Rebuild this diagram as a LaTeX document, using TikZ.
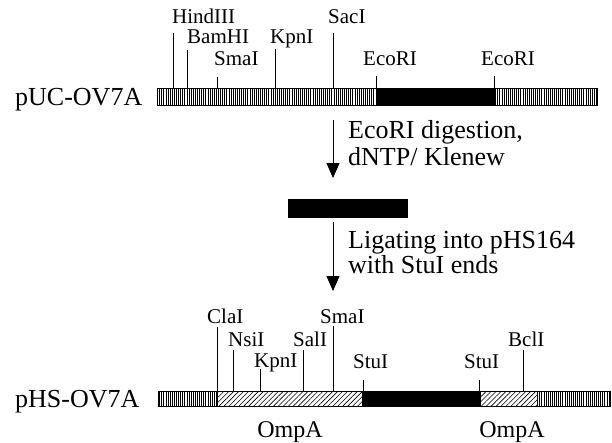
\documentclass[tikz,border=0pt]{standalone}
\usepackage{fontspec}
\setmainfont{Liberation Serif}
\usetikzlibrary{arrows.meta,patterns.meta}

\begin{document}
\begin{tikzpicture}[x=1pt,y=-1pt,
  site/.style={font=\fontsize{21}{21}\selectfont,anchor=base west,inner sep=0pt},
  plasmid/.style={font=\fontsize{26}{26}\selectfont,anchor=base west,inner sep=0pt},
  stepnote/.style={font=\fontsize{26}{26}\selectfont,anchor=base west,inner sep=0pt},
  gene/.style={font=\fontsize{24}{24}\selectfont,anchor=base,inner sep=0pt},
  stripes/.style={draw,line width=1pt,pattern={Lines[angle=90,distance=2.1pt,line width=0.7pt]}},
  hatch/.style={draw,line width=1pt,pattern={Lines[angle=45,distance=3.5pt,line width=0.6pt]}},
  insert/.style={draw,line width=1pt,fill=black},
  tick/.style={line width=1pt},
  arr/.style={-{Triangle[length=15pt,width=13pt]},line width=1pt}
]
  \useasboundingbox (0,0) rectangle (612,442);

  % pUC-OV7A
  \node[plasmid] (puc) at (15,105) {pUC-OV7A};
  \draw[stripes] (157,88) rectangle (376,105);
  \draw[insert]  (376,88) rectangle (494,105);
  \draw[stripes] (494,88) rectangle (597,105);
  \coordinate (barA) at (157,88);

  \node[site] (lhind)  at (172,23) {HindIII};
  \node[site] (lbam)   at (187,43) {BamHI};
  \node[site] (lsma)   at (214,65) {SmaI};
  \node[site] (lkpn)   at (270,43) {KpnI};
  \node[site] (lsac)   at (328,23) {SacI};
  \node[site] (leco)   at (363,65) {EcoRI};
  \node[site] (leco2)  at (481,65) {EcoRI};

  \coordinate (hind) at (173,33);
  \coordinate (bam)  at (187,50);
  \coordinate (sma)  at (217,77);
  \coordinate (kpn)  at (275,49);
  \coordinate (sac)  at (333,33);
  \coordinate (eco)  at (376,76);
  \coordinate (eco2) at (494,76);
  \foreach \s in {hind,bam,sma,kpn,sac,eco,eco2}
    \draw[tick] (\s) -- (\s |- barA);

  % digestion
  \coordinate (dig) at (333,120);
  \coordinate (digend) at (333,178);
  \draw[arr] (dig) -- (digend);
  \node[stepnote] (dig1) at (348,138) {EcoRI digestion,};
  \node[stepnote] (dig2) at (348,165) {dNTP/ Klenew};

  \draw[insert] (288,199) rectangle (407,217);

  % ligation
  \coordinate (lig) at (333,222);
  \coordinate (ligend) at (333,291);
  \draw[arr] (lig) -- (ligend);
  \node[stepnote] (lig1) at (348,248) {Ligating into pHS164};
  \node[stepnote] (lig2) at (348,273) {with StuI ends};

  % pHS-OV7A
  \node[plasmid] (phs) at (15,407) {pHS-OV7A};
  \draw[stripes] (158,391) rectangle (217,406);
  \draw[hatch]   (217,391) rectangle (362,406);
  \draw[insert]  (362,391) rectangle (480,406);
  \draw[hatch]   (480,391) rectangle (537,406);
  \draw[stripes] (537,391) rectangle (610,406);
  \coordinate (barB) at (158,391);

  \node[site] (lcla)  at (207,323) {ClaI};
  \node[site] (lnsi)  at (228,346) {NsiI};
  \node[site] (lkpnb) at (254,367) {KpnI};
  \node[site] (lsal)  at (293,346) {SalI};
  \node[site] (lsmab) at (320,323) {SmaI};
  \node[site] (lstu)  at (353,368) {StuI};
  \node[site] (lstu2) at (464,368) {StuI};
  \node[site] (lbcl)  at (508,346) {BclI};

  \coordinate (cla)  at (217,327);
  \coordinate (nsi)  at (233,350);
  \coordinate (kpnb) at (260,369);
  \coordinate (sal)  at (303,350);
  \coordinate (smab) at (333,326);
  \coordinate (stu)  at (363,380);
  \coordinate (stu2) at (479,380);
  \coordinate (bcl)  at (523,350);
  \foreach \s in {cla,nsi,kpnb,sal,smab,stu,stu2,bcl}
    \draw[tick] (\s) -- (\s |- barB);

  \node[gene] (omp1) at (290,437) {OmpA};
  \node[gene] (omp2) at (512,437) {OmpA};
\end{tikzpicture}
\end{document}
